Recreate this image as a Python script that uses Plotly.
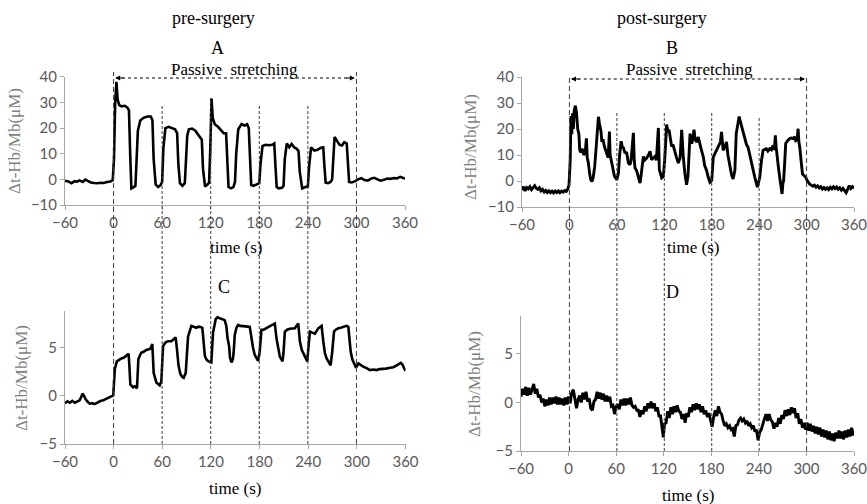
import plotly.graph_objects as go

# ---------------- data ----------------
x_ticks = [-60, 0, 60, 120, 180, 240, 300, 360]
a_ticks = [-10, 0, 10, 20, 30, 40]
c_ticks = [-5, 0, 5]
phase_marks = [0, 60, 120, 180, 240, 300]

a_time = [-60,-56,-52,-48,-45,-42,-38,-35,-32,-28,
          -24,-20,-16,-12,-8,-4,-1,0.5,2,3.5,
          5,7,10,14,17,19,20.5,22,25,27,
          28.5,30,33,37,42,46,48,49.5,52,55,
          58,60,61.5,64,68,72,76,78.5,80,82,
          85,88,89.5,91,93,97,101,104,107,109,
          110.5,113,116,118,119.5,121,122.5,125,129,133,
          136,139,140.5,142,145,148,150,151.5,154,158,
          162,165,167,168.5,170,173,177,180,181.5,184,
          188,192,196,198.5,200,201.5,204,208,210,211.5,
          214,217,220,223,226,228.5,230,233,237,240,
          241.5,244,248,252,256,259,260.5,262,265,268,
          270,271.5,273,276,279,282,285,288,289.5,291,
          294,298,302,306,310,314,318,322,326,330,
          334,338,342,346,350,354,357,360]
a_val = [-0.5,-0.8,-1.5,-0.7,-0.9,-0.4,-1.0,-0.1,-0.6,-1.2,
         -1.4,-1.5,-1.3,-1.4,-1.0,-0.8,-0.3,8,30,38,
         31,29,28.5,28.7,28,27,10,-3.5,-3,-2.5,
         8,19,23,24,24.5,24.5,23,8,-2,-3,
         -2.3,-1,12,20,20.5,20,19.5,18,6,-1.5,
         -2.5,-1.5,8,17,19.5,19.8,19,17.5,16.5,15.5,
         4,-2.8,-2,-1.2,12,31.5,24,21.5,20.5,19,
         18,18,8,-3,-3.5,-3,-1,10,19.5,21.5,
         21,21.5,20,8,-2.2,-2.5,-2,-1.5,6,13,
         13.5,13.3,13.5,14,5,-3,-3.5,-3.3,-2.5,8,
         14,12.5,13.8,12.5,12,11,3,-3.5,-3,-2.8,
         5,12.5,11.2,11.5,12.3,12.5,5,-1.3,-1.5,-1,
         0,10,16.5,15,13.5,13.2,14.5,14,6,-1,
         -1.2,-0.8,0,0.5,-0.3,-0.5,0.3,0.6,0,-0.5,
         -0.2,0.3,0.2,0.5,0.4,1.0,0.6,0.3]

b_time = [-60,-58,-56,-54,-52,-50,-48,-46,-44,-42,
          -40,-38,-36,-34,-32,-30,-28,-26,-24,-22,
          -20,-18,-16,-14,-12,-10,-8,-6,-4,-2,
          -0.5,1,2,3,4,5,6,7.5,9,10.5,
          12,13,14.5,16,18,20,21.5,22.5,24,25.5,
          27,28.5,30,32,34,35.5,36.7,38,40,41,
          42.5,44.4,46,47.3,49,50.6,51.5,53.6,55.5,57,
          60,62,63.5,65.4,67,68.3,70,72.5,74.6,76.7,
          78,80.9,82,83,85,87,89.3,91,93.5,95,
          97.7,100,102,104,106,108.3,110,112.5,113.7,116.7,
          118.8,120.5,123,124.5,126,128,129.3,131,133.5,135.5,
          137.7,140,142,143,144,146,148.2,150,151.5,152.6,
          154.6,156,157.6,159,161,163,166,169.4,171,173.6,
          175.5,177.8,180,182,184,186,188,189.5,191,192.4,
          194.5,196.5,198.7,200.5,203,205,207,209.3,211,213,
          214.7,217.6,219.5,221.8,224,226,228,230,232,234.5,
          237.8,240.8,243,245,247,249,251,253.4,255.5,257.5,
          259.3,260.5,261.5,262.6,264.5,266,268,269,270,271,
          272.5,273.6,276,278.6,281,283,285,286.3,288,289.3,
          290.3,291.4,293,294.8,297,299,301,302.5,304,306,
          308,310,312,314,316,318,320,322,324,326,
          328,330,332,334,336,338,340,342,344,346,
          348,350,352,354,356,358,360]
b_val = [-3.5,-2.2,-3.8,-2.5,-3.0,-2.2,-3.3,-2.4,-1.8,-2.8,
         -3.2,-2.6,-3.8,-3.2,-4.2,-3.6,-4.4,-3.8,-4.5,-3.9,
         -4.6,-3.9,-4.4,-3.8,-4.5,-3.9,-4.3,-3.7,-4.0,-3.0,
         -1.5,8,25,18,26,20,27,29,26,20,
         18,12,11,12.5,10,11,16.4,9,6.9,3,
         0.5,-0.2,1.2,5.6,15,21,24.7,22,19,15,
         16,13.1,12,10.5,9,19,10,6.9,3,1.8,
         0.5,3,10,15.3,13,12.8,11,10.8,6.9,6.3,
         8,18.5,8,5,4,2,-0.8,3,9.5,8,
         8.8,10,11.4,8.2,9,9.5,8,20.4,4.4,1.2,
         1.8,8,21.7,19,19.7,16,13.3,14,10.8,9,
         6.9,9,19.7,12,9.5,3,-1.5,2,10,18.2,
         14.4,16,19.7,16,15,16.9,13,9.2,6,4,
         1.5,-0.5,0.2,9.2,10.5,11.8,13,14.4,15,18.9,
         11.8,13,15,10,5.3,2.5,0.8,4,18.2,22,
         24.8,21.3,19,16.9,14,13,10,7.8,4.5,1.4,
         -2.4,1.4,8,11.8,12.2,12.4,11.5,12.4,12,13.7,
         12,17.6,13,9.2,5,1.4,-2,-5,-1,0.2,
         8,14.4,15.5,16.3,16.5,16.3,17,15.6,16,20.1,
         15,13,8,2.7,2,1.4,0,-0.8,-1.2,-1.6,
         -2.0,-1.6,-2.4,-1.9,-2.7,-2.2,-3.1,-2.5,-3.2,-2.6,
         -3.3,-2.4,-3.0,-2.2,-2.9,-2.3,-3.2,-2.6,-3.5,-2.8,
         -3.6,-4.5,-3.2,-1.8,-2.9,-2.2,-2.8]

c_time = [-60,-57,-54,-51,-48,-45,-42,-40,-38.5,-36.5,
          -34.5,-32,-29.5,-26,-23.5,-20,-17,-13,-9,-5,
          -3,-0.5,0.5,1.5,4,7,9.5,13,15.6,18.5,
          19.5,20.6,23.9,26,28.8,29.5,30.5,34,37,40.3,
          45,47.7,48.5,49.4,52.7,56.8,58.8,59.8,61,64.2,
          67,71.2,74,76.5,78.2,80,82.3,84.5,86.4,88.9,
          90.5,91.8,95.9,99,102,104,106.2,109.4,111,112.5,
          114.4,117,120.5,121.5,122.6,125.9,128,130.9,134,137,
          139,140.5,142.4,143.5,145.3,147,148,149.4,151.5,153.5,
          156,159.7,163,167.9,170,172,174.1,176,178.2,180,
          182.3,185,188.5,191.5,194.7,198.8,200.9,203,205,208.3,
          209.5,211.2,214,217.3,220,223.5,227.7,229.7,232,234.7,
          237,238.8,240,242.1,245,248.3,252.4,256.5,258.6,260.5,
          262.7,265,267.6,269.5,271.8,274,277.1,280,283.3,287.4,
          289.5,291,292.4,294.5,296.5,299,301.9,305,308,312,
          316.3,320,324.5,328,332.8,336,341,345,349.2,352,
          354.2,356,357.4,360]
c_val = [-0.75,-0.55,-0.7,-0.5,-0.7,-0.55,-0.45,-0.1,0.25,0.0,
         -0.35,-0.6,-0.8,-0.75,-0.85,-0.7,-0.55,-0.45,-0.3,-0.2,
         -0.1,0.05,1.5,2.85,3.6,3.8,3.9,4.0,4.2,4.4,
         3.0,1.2,0.9,1.0,0.8,2.0,3.85,4.5,4.6,4.8,
         4.9,5.4,4.0,2.4,1.4,1.1,1.5,3.5,5.2,5.6,
         5.7,5.7,5.9,6.1,4.8,3.2,2.3,2.0,1.9,2.4,
         4.5,6.2,7.3,7.2,7.1,7.2,7.2,7.1,5.2,4.2,
         3.8,3.6,3.5,5.0,6.6,8.0,8.2,8.1,8.0,7.9,
         7.3,6.0,5.2,4.0,3.5,3.8,4.5,6.35,7.1,7.4,
         7.3,7.3,7.25,7.2,6.0,5.0,4.27,3.9,3.65,4.5,
         6.9,6.9,7.05,7.2,7.3,7.55,6.0,4.8,4.1,3.6,
         4.5,6.7,6.9,7.0,7.0,7.05,7.55,5.7,4.8,4.27,
         3.8,3.6,4.8,6.7,6.6,6.5,7.05,7.3,5.7,4.5,
         3.9,3.5,3.2,4.5,6.7,6.9,7.05,7.1,7.2,7.3,
         7.2,5.8,4.6,3.8,3.4,2.95,3.4,3.2,3.05,2.9,
         2.7,2.75,2.7,2.8,2.8,2.85,2.95,3.0,3.2,3.3,
         3.45,3.3,3.05,2.6]

d_time = [-60,-58,-56,-54,-52,-50,-48,-46,-44,-42,
          -40,-38,-36,-34,-32,-30,-28,-26,-24,-22,
          -20,-18,-16,-14,-12,-10,-8,-6,-4,-2,
          0,2,4,6,8,10,12,14,16,18,
          20,22,24,26,28,30,32,34,36,38,
          40,42,44,46,48,50,52,54,56,58,
          60,62,64,66,68,70,72,74,76,78,
          80,82,84,86,88,90,92,94,96,98,
          100,102,104,106,108,110,112,114,116,118,
          119.5,121,123,125,127,129,131,133,135,137,
          139,141,143,145,147,149,151,153,155,157,
          159,161,163,165,167,169,171,173,175,177,
          179,181,183,185,187,189,191,193,195,197,
          199,201,203,205,207,209,211,213,215,217,
          219,221,223,225,227,229,231,233,235,237,
          239,241,243,245,247,249,251,253,255,257,
          259,261,263,265,267,269,271,273,275,277,
          279,281,283,285,287,289,291,293,295,297,
          299,301,303,305,307,309,311,313,315,317,
          319,321,323,325,327,329,331,333,335,337,
          339,341,343,345,347,349,351,353,355,357,
          359,360]
d_val = [0.6,1.4,0.8,1.6,0.7,1.5,0.8,1.3,1.9,0.9,
         1.4,0.5,0.8,0.0,0.4,-0.4,0.3,-0.3,0.5,-0.2,
         0.5,-0.1,0.6,-0.2,0.5,-0.2,0.4,-0.3,0.5,-0.2,
         0.6,-0.1,1.0,1.3,0.2,-0.6,0.3,0.7,0.0,1.0,
         0.3,1.1,0.1,0.4,-0.6,-0.8,0.1,0.3,1.1,0.4,
         1.0,0.3,0.9,0.1,0.7,0.1,0.6,-0.4,-0.3,-1.2,
         -0.4,-0.2,-0.7,0.3,-0.3,0.4,-0.3,0.4,-0.2,0.5,
         -0.3,-0.5,-0.4,-0.8,-0.8,-1.5,-0.8,-1.2,-0.4,-0.9,
         -0.1,-0.6,0.1,-0.6,-0.1,-0.9,-0.5,-1.4,-1.4,-2.5,
         -3.6,-2.2,-2.1,-0.9,-1.6,-0.5,-1.2,-0.4,-1.0,-0.3,
         -0.9,-1.0,-1.7,-1.2,-2.1,-1.1,-1.5,-0.5,-1.0,-0.2,
         -0.8,-0.1,-0.7,-0.2,-1.0,-0.4,-1.2,-0.8,-1.5,-1.1,
         -2.0,-2.5,-1.5,-0.8,-1.4,-0.4,-1.0,-1.2,-1.9,-2.4,
         -2.2,-2.6,-2.4,-2.8,-2.7,-3.5,-2.4,-2.3,-1.8,-1.6,
         -1.9,-1.7,-2.1,-1.9,-2.4,-2.2,-2.6,-2.4,-3.0,-2.8,
         -3.9,-3.1,-2.8,-2.1,-1.7,-1.2,-1.9,-1.2,-1.8,-2.0,
         -2.7,-2.1,-2.5,-1.6,-2.2,-1.3,-1.7,-0.8,-1.4,-0.7,
         -1.3,-0.5,-1.1,-0.6,-1.6,-1.1,-2.2,-1.7,-2.6,-2.1,
         -2.8,-2.1,-2.9,-2.2,-3.0,-2.4,-3.2,-2.5,-3.3,-2.6,
         -3.5,-2.8,-3.6,-2.9,-3.8,-3.0,-3.9,-3.2,-4.0,-3.1,
         -3.7,-2.9,-3.7,-3.0,-3.8,-2.9,-3.6,-2.8,-3.5,-2.6,
         -3.4,-2.9]

assert len(a_time) == len(a_val)
assert len(b_time) == len(b_val)
assert len(c_time) == len(c_val)
assert len(d_time) == len(d_val)

# ---------------- layout helpers ----------------
W, H = 867, 504
def px(x):
    return x / W
def py(y):
    return 1 - y / H

AXC = "#a6a6a6"
TICKFONT = dict(family="Lato, Open Sans, sans-serif", size=15, color="#595959")
SERIF = "Liberation Serif, Times New Roman, serif"

fig = go.Figure()
line = dict(color="black", width=2.6)
noisy = dict(color="black", width=2.9)
fig.add_trace(go.Scatter(x=a_time, y=a_val, mode="lines", line=line, xaxis="x", yaxis="y"))
fig.add_trace(go.Scatter(x=b_time, y=b_val, mode="lines", line=noisy, xaxis="x2", yaxis="y2"))
fig.add_trace(go.Scatter(x=c_time, y=c_val, mode="lines", line=line, xaxis="x3", yaxis="y3"))
fig.add_trace(go.Scatter(x=d_time, y=d_val, mode="lines", line=noisy, xaxis="x4", yaxis="y4"))

def xax(d0, d1, anchor):
    return dict(domain=[px(d0), px(d1)], range=[-60, 360], tickvals=x_ticks,
                anchor=anchor, showline=True, linecolor=AXC, linewidth=1,
                ticks="outside", ticklen=4, tickcolor=AXC, tickfont=TICKFONT,
                showgrid=False, zeroline=False, fixedrange=True, automargin=False,
                ticklabeloverflow="allow")

def yax(top, bottom, rng, tv, anchor):
    return dict(domain=[py(bottom), py(top)], range=rng, tickvals=tv,
                anchor=anchor, showline=True, linecolor=AXC, linewidth=1,
                ticks="outside", ticklen=4, tickcolor=AXC, tickfont=TICKFONT,
                showgrid=False, zeroline=False, fixedrange=True, automargin=False,
                ticklabeloverflow="allow")

fig.update_layout(
    width=W, height=H, margin=dict(l=0, r=0, t=0, b=0, autoexpand=False),
    paper_bgcolor="white", plot_bgcolor="white", showlegend=False,
    xaxis=xax(65, 405, "y"),
    yaxis=yax(76.8, 205, [-10, 40], a_ticks, "x"),
    xaxis2=xax(522, 854, "y2"),
    yaxis2=yax(77, 207, [-10, 40], a_ticks, "x2"),
    xaxis3=xax(65, 405.5, "y3"),
    yaxis3=yax(311, 444, [-5, 8.85], c_ticks, "x3"),
    xaxis4=xax(521, 854, "y4"),
    yaxis4=yax(316, 451, [-5, 8.9], c_ticks, "x4"),
)

# dashed phase markers crossing both panels of each column
left_top = {0: 72, 60: 105, 120: 98, 180: 105, 240: 106, 300: 72}
right_top = {0: 76, 60: 113, 120: 113, 180: 112, 240: 116, 300: 77}
for t in phase_marks:
    long = t in (0, 300)
    dash = "5px,3px" if long else "3px,2px"
    fig.add_shape(type="line", xref="x", yref="paper", x0=t, x1=t,
                  y0=py(444), y1=py(left_top[t]),
                  line=dict(color="#3c3c3c", width=1, dash=dash))
    fig.add_shape(type="line", xref="x2", yref="paper", x0=t, x1=t,
                  y0=py(451), y1=py(right_top[t]),
                  line=dict(color="#3c3c3c", width=1, dash=dash))

# double arrows for passive stretching
for xr, yy in (("x", 78), ("x2", 79)):
    fig.add_shape(type="line", xref=xr, yref="paper", x0=3, x1=297,
                  y0=py(yy), y1=py(yy), line=dict(color="black", width=1, dash="dot"))
    fig.add_annotation(x=2, y=py(yy), xref=xr, yref="paper", text="", showarrow=True,
                       ax=10, ay=0, arrowhead=2, arrowsize=1, arrowwidth=1, arrowcolor="black")
    fig.add_annotation(x=298, y=py(yy), xref=xr, yref="paper", text="", showarrow=True,
                       ax=-10, ay=0, arrowhead=2, arrowsize=1, arrowwidth=1, arrowcolor="black")

def text(x, y, s, size=18, color="black", angle=0):
    fig.add_annotation(x=px(x), y=py(y), xref="paper", yref="paper", text=s,
                       showarrow=False, textangle=angle,
                       font=dict(family=SERIF, size=size, color=color),
                       xanchor="center", yanchor="middle")

text(213, 18, "pre-surgery")
text(662, 18, "post-surgery")
text(217, 48, "A")
text(672, 48, "B")
text(234, 70, "Passive  stretching", size=17)
text(689, 70, "Passive  stretching", size=17)
text(236, 247, "time (s)", size=17)
text(693, 247, "time (s)", size=17)
text(224, 287, "C")
text(672, 292, "D")
text(235, 488, "time (s)", size=17)
text(688, 495, "time (s)", size=17)

ylab = "\u0394t-Hb/Mb(\u03bcM)"
text(14, 141, ylab, size=17, color="#7f7f7f", angle=-90)
text(470, 147, ylab, size=17, color="#7f7f7f", angle=-90)
text(21, 378, ylab, size=17, color="#7f7f7f", angle=-90)
text(474, 384, ylab, size=17, color="#7f7f7f", angle=-90)

fig.write_html("out.html")
